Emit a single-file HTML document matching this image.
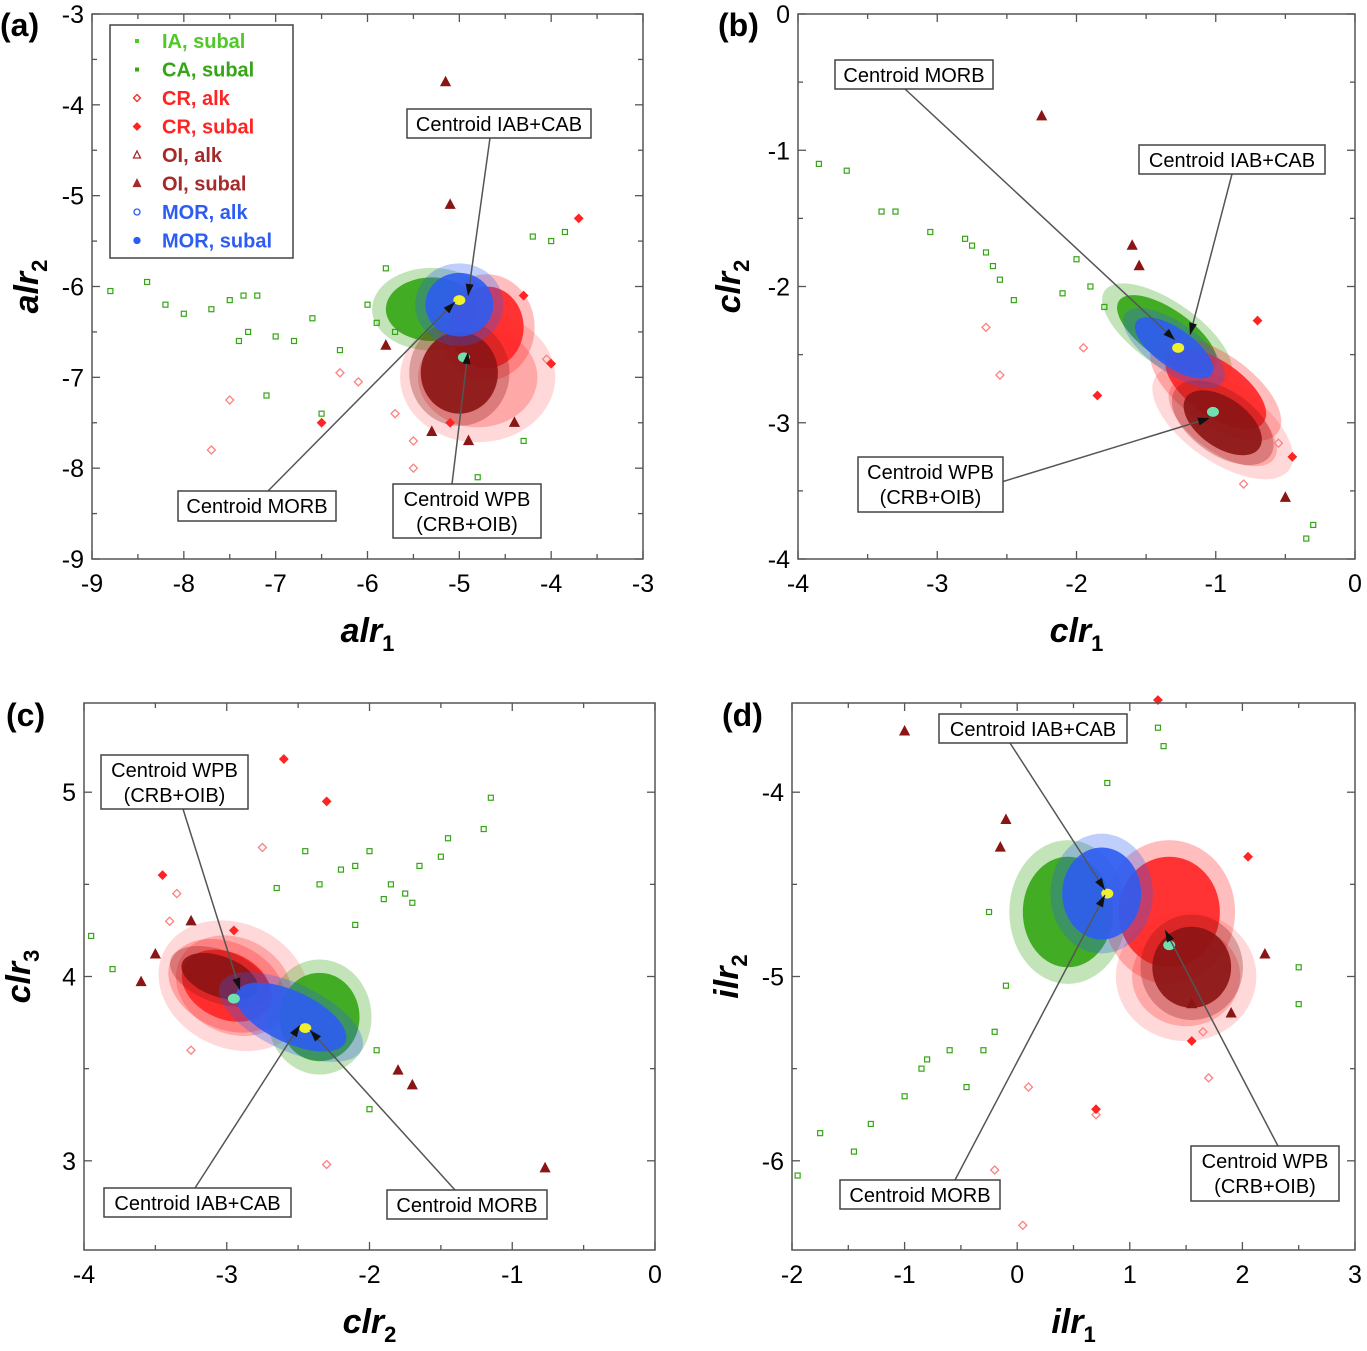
<!DOCTYPE html>
<html><head><meta charset="utf-8"><style>
body{margin:0;background:#fff}
svg text{font-family:"Liberation Sans",sans-serif}
</style></head><body>
<svg id="fig" width="1367" height="1346" viewBox="0 0 1367 1346" xmlns="http://www.w3.org/2000/svg"></svg>
<script>
// ---------- Panel (a) data ----------
const aGreen=[[-8.8,-6.05],[-8.4,-5.95],[-8.2,-6.2],[-8.0,-6.3],[-7.7,-6.25],[-7.5,-6.15],[-7.35,-6.1],[-7.2,-6.1],[-7.3,-6.5],[-7.4,-6.6],[-7.0,-6.55],[-6.8,-6.6],[-6.6,-6.35],[-6.3,-6.7],[-7.1,-7.2],[-6.5,-7.4],[-6.0,-6.2],[-5.8,-5.8],[-4.2,-5.45],[-4.0,-5.5],[-3.85,-5.4],[-4.8,-8.1],[-4.3,-7.7],[-5.7,-6.5],[-5.9,-6.4]];
const aPink=[[-7.7,-7.8],[-7.5,-7.25],[-6.3,-6.95],[-6.1,-7.05],[-5.5,-7.7],[-5.5,-8.0],[-4.05,-6.8],[-5.7,-7.4]];
const aRed=[[-6.5,-7.5],[-3.7,-5.25],[-4.0,-6.85],[-5.1,-7.5],[-4.3,-6.1]];
const aBrown=[[-5.15,-3.75],[-5.1,-5.1],[-5.3,-7.6],[-4.4,-7.5],[-4.9,-7.7],[-5.8,-6.65]];
const aClouds=[["pink",-4.8,-7.0,0.65,0.55,0],["green",-5.3,-6.25,0.5,0.35,0],["red",-4.7,-6.45,0.4,0.45,0],["brown",-5.0,-6.95,0.42,0.45,0],["blue",-5.0,-6.2,0.37,0.35,0]];
const aCentroids=[[-5.0,-6.15],[-4.95,-6.78]];
// ---------- Panel (b) data ----------
const bGreen=[[-3.85,-1.1],[-3.65,-1.15],[-3.4,-1.45],[-3.3,-1.45],[-3.05,-1.6],[-2.8,-1.65],[-2.75,-1.7],[-2.65,-1.75],[-2.6,-1.85],[-2.55,-1.95],[-2.45,-2.1],[-2.0,-1.8],[-2.1,-2.05],[-0.3,-3.75],[-0.35,-3.85],[-1.9,-2.0],[-1.8,-2.15]];
const bPink=[[-2.65,-2.3],[-2.55,-2.65],[-1.95,-2.45],[-0.55,-3.15],[-0.8,-3.45]];
const bRed=[[-0.45,-3.25],[-0.7,-2.25],[-1.85,-2.8]];
const bBrown=[[-2.25,-0.75],[-1.6,-1.7],[-1.55,-1.85],[-0.5,-3.55]];
const bClouds=[["pink",-0.95,-3.0,0.45,0.22,35],["green",-1.35,-2.35,0.42,0.18,35],["red",-1.0,-2.75,0.42,0.2,35],["brown",-0.95,-3.0,0.32,0.18,35],["blue",-1.3,-2.45,0.33,0.14,35]];
const bCentroids=[[-1.27,-2.45],[-1.02,-2.92]];
// ---------- Panel (c) data ----------
const cGreen=[[-1.15,4.97],[-1.2,4.8],[-1.45,4.75],[-1.5,4.65],[-1.65,4.6],[-1.85,4.5],[-1.9,4.42],[-2.0,4.68],[-2.1,4.6],[-1.7,4.4],[-1.75,4.45],[-2.2,4.58],[-2.35,4.5],[-2.45,4.68],[-2.65,4.48],[-3.95,4.22],[-3.8,4.04],[-2.0,3.28],[-2.1,4.28],[-1.95,3.6]];
const cPink=[[-2.75,4.7],[-3.35,4.45],[-2.3,2.98],[-3.25,3.6],[-3.4,4.3]];
const cRed=[[-2.6,5.18],[-2.3,4.95],[-3.45,4.55],[-2.95,4.25]];
const cBrown=[[-3.6,3.97],[-3.25,4.3],[-1.8,3.49],[-1.7,3.41],[-0.77,2.96],[-3.5,4.12]];
const cClouds=[["pink",-2.95,3.95,0.42,0.26,25],["red",-3.0,3.95,0.33,0.18,25],["green",-2.35,3.78,0.28,0.24,0],["brown",-3.05,4.0,0.28,0.11,20],["blue",-2.55,3.78,0.42,0.14,25]];
const cCentroids=[[-2.45,3.72],[-2.95,3.88]];
// ---------- Panel (d) data ----------
const dGreen=[[-1.95,-6.08],[-1.75,-5.85],[-1.45,-5.95],[-1.3,-5.8],[-1.0,-5.65],[-0.85,-5.5],[-0.8,-5.45],[-0.6,-5.4],[-0.45,-5.6],[-0.3,-5.4],[-0.2,-5.3],[-0.1,-5.05],[-0.25,-4.65],[2.5,-4.95],[2.5,-5.15],[0.8,-3.95],[1.25,-3.65],[1.3,-3.75]];
const dPink=[[-0.2,-6.05],[0.05,-6.35],[0.7,-5.75],[1.7,-5.55],[0.1,-5.6],[1.65,-5.3]];
const dRed=[[1.25,-3.5],[2.05,-4.35],[0.7,-5.72],[1.55,-5.35]];
const dBrown=[[-1.0,-3.67],[-0.1,-4.15],[-0.15,-4.3],[2.2,-4.88],[1.9,-5.2],[1.55,-5.15]];
const dClouds=[["pink",1.5,-5.0,0.48,0.27,0],["green",0.45,-4.65,0.4,0.3,0],["red",1.35,-4.65,0.45,0.3,0],["brown",1.55,-4.95,0.35,0.22,0],["blue",0.75,-4.55,0.35,0.25,0]];
const dCentroids=[[0.8,-4.55],[1.35,-4.83]];

const C={green:"#35a515",lgreen:"#50c828",red:"#ff2424",pink:"#ff8080",brown:"#8b1414",blue:"#2d5cf2"};
const NS="http://www.w3.org/2000/svg";
const svg=document.getElementById('fig');
function el(t,a,p){const e=document.createElementNS(NS,t);for(const k in a)e.setAttribute(k,a[k]);(p||svg).appendChild(e);return e;}

function panel(cfg){
  const g=el('g',{});
  
  
  const sx=v=>cfg.x0+(v-cfg.xmin)/(cfg.xmax-cfg.xmin)*(cfg.x1-cfg.x0);
  const sy=v=>cfg.y0+(cfg.ymax-v)/(cfg.ymax-cfg.ymin)*(cfg.y1-cfg.y0);
  const kx=(cfg.x1-cfg.x0)/(cfg.xmax-cfg.xmin), ky=(cfg.y1-cfg.y0)/(cfg.ymax-cfg.ymin);
  cfg.clouds.forEach(c=>{
    const tr=`rotate(${c[5]} ${sx(c[1])} ${sy(c[2])})`;
    const h=el('ellipse',{cx:sx(c[1]),cy:sy(c[2]),rx:c[3]*kx*1.3,ry:c[4]*ky*1.3,fill:C[c[0]],'fill-opacity':0.3,transform:tr},g);
    
    
    const e=el('ellipse',{cx:sx(c[1]),cy:sy(c[2]),rx:c[3]*kx,ry:c[4]*ky,fill:C[c[0]],'fill-opacity':c[0]=='pink'?0.55:0.9,transform:tr},g);
    
    
  });
  function pts(arr,col,shape,fill,name){
    arr.forEach(p=>{
      const x=sx(p[0]),y=sy(p[1]);let m;
      if(shape=='sq')m=el('rect',{x:x-2.5,y:y-2.5,width:5,height:5,fill:fill?col:'none',stroke:col,'stroke-width':1.2},g);
      else if(shape=='di')m=el('path',{d:`M${x} ${y-4}L${x+4} ${y}L${x} ${y+4}L${x-4} ${y}Z`,fill:fill?col:'none',stroke:col,'stroke-width':1.3},g);
      else m=el('path',{d:`M${x} ${y-5}L${x+4.5} ${y+3.5}L${x-4.5} ${y+3.5}Z`,fill:fill?col:'none',stroke:col,'stroke-width':1.3},g);
      
      
    });
  }
  pts(cfg.green,C.green,'sq',false,'ia-point');
  pts(cfg.pink,C.pink,'di',false,'cr-alk-point');
  pts(cfg.red,C.red,'di',true,'cr-subal-point');
  pts(cfg.brown,C.brown,'tri',true,'oi-subal-point');
  cfg.cents.forEach((p,i)=>{
    const e=el('ellipse',{cx:sx(p[0]),cy:sy(p[1]),rx:6,ry:5,fill:i?'#70e0b0':'#f0f030'},g);
    
    
  });
  const fr=el('rect',{x:cfg.x0,y:cfg.y0,width:cfg.x1-cfg.x0,height:cfg.y1-cfg.y0,fill:'none',stroke:'#555','stroke-width':1.5},g);
  
  
  for(let v=cfg.xmin;v<=cfg.xmax+1e-9;v+=cfg.xstep/2){
    const maj=Math.abs(Math.round(v/cfg.xstep)*cfg.xstep-v)<1e-6,L=maj?8:5,x=sx(v);
    el('line',{x1:x,x2:x,y1:cfg.y1,y2:cfg.y1-L,stroke:'#555','stroke-width':1.3},g);
    el('line',{x1:x,x2:x,y1:cfg.y0,y2:cfg.y0+L,stroke:'#555','stroke-width':1.3},g);
    if(maj){const t=el('text',{x:x,y:cfg.y1+33,'font-size':25,'text-anchor':'middle'},g);t.textContent=String(Math.round(v));
      }
  }
  const ys=Math.ceil(cfg.ymin/(cfg.ystep/2))*(cfg.ystep/2);
  for(let v=ys;v<=cfg.ymax+1e-9;v+=cfg.ystep/2){
    const maj=Math.abs(Math.round(v/cfg.ystep)*cfg.ystep-v)<1e-6,L=maj?8:5,y=sy(v);
    el('line',{x1:cfg.x0,x2:cfg.x0+L,y1:y,y2:y,stroke:'#555','stroke-width':1.3},g);
    el('line',{x1:cfg.x1,x2:cfg.x1-L,y1:y,y2:y,stroke:'#555','stroke-width':1.3},g);
    if(maj){const t=el('text',{x:cfg.x0-8,y:y+9,'font-size':25,'text-anchor':'end'},g);t.textContent=String(Math.round(v));
      }
  }
  cfg.labels.forEach(l=>{
    const ln=el('line',{x1:l.lx,y1:l.ly,x2:l.tx,y2:l.ty,stroke:'#555','stroke-width':1.5},g);
    
    const ang=Math.atan2(l.ty-l.ly,l.tx-l.lx);
    el('path',{d:`M${l.tx} ${l.ty}L${l.tx-12*Math.cos(ang)+4*Math.sin(ang)} ${l.ty-12*Math.sin(ang)-4*Math.cos(ang)}L${l.tx-12*Math.cos(ang)-4*Math.sin(ang)} ${l.ty-12*Math.sin(ang)+4*Math.cos(ang)}Z`,fill:'#111'},g);
    const r=el('rect',{x:l.x,y:l.y,width:l.w,height:l.h,fill:'#fff',stroke:'#444','stroke-width':1.5},g);
    
    l.t.forEach((s,i)=>{const t=el('text',{x:l.x+l.w/2,y:l.y+22+i*25,'font-size':20,'text-anchor':'middle'},g);t.textContent=s;
      });
  });
  const xt=el('text',{x:(cfg.x0+cfg.x1)/2,y:cfg.y1+83,'font-size':34,'font-style':'italic','font-weight':'bold','text-anchor':'middle'},g);
  xt.innerHTML=cfg.xl+'<tspan font-size="22" dy="9" font-style="normal">'+cfg.sub1+'</tspan>';
  
  const yt=el('text',{x:0,y:0,'font-size':34,'font-style':'italic','font-weight':'bold','text-anchor':'middle',transform:`translate(${cfg.ytx},${(cfg.y0+cfg.y1)/2}) rotate(-90)`},g);
  yt.innerHTML=cfg.yl+'<tspan font-size="22" dy="9" font-style="normal">'+cfg.sub2+'</tspan>';
  
  const pl=el('text',{x:cfg.px,y:cfg.py,'font-size':32,'font-weight':'bold'},g);pl.textContent=cfg.letter;
  
}

panel({name:'panel-a',letter:'(a)',px:0,py:36,x0:92,x1:643,y0:14,y1:559,xmin:-9,xmax:-3,ymin:-9,ymax:-3,xstep:1,ystep:1,
 xl:'alr',yl:'alr',sub1:'1',sub2:'2',ytx:38,green:aGreen,pink:aPink,red:aRed,brown:aBrown,clouds:aClouds,cents:aCentroids,
 labels:[{x:407,y:109,w:184,h:29,t:['Centroid IAB+CAB'],lx:490,ly:138,tx:468,ty:296},
 {x:178,y:491,w:158,h:30,t:['Centroid MORB'],lx:268,ly:491,tx:455,ty:302},
 {x:393,y:484,w:148,h:54,t:['Centroid WPB','(CRB+OIB)'],lx:452,ly:484,tx:468,ty:352}]});
panel({name:'panel-b',letter:'(b)',px:718,py:36,x0:798,x1:1355,y0:14,y1:559,xmin:-4,xmax:0,ymin:-4,ymax:0,xstep:1,ystep:1,
 xl:'clr',yl:'clr',sub1:'1',sub2:'2',ytx:740,green:bGreen,pink:bPink,red:bRed,brown:bBrown,clouds:bClouds,cents:bCentroids,
 labels:[{x:835,y:60,w:158,h:29,t:['Centroid MORB'],lx:905,ly:89,tx:1175,ty:340},
 {x:1139,y:145,w:186,h:29,t:['Centroid IAB+CAB'],lx:1232,ly:174,tx:1190,ty:335},
 {x:858,y:457,w:145,h:55,t:['Centroid WPB','(CRB+OIB)'],lx:995,ly:484,tx:1210,ty:418}]});
panel({name:'panel-c',letter:'(c)',px:6,py:726,x0:84,x1:655,y0:703,y1:1250,xmin:-4,xmax:0,ymin:2.516,ymax:5.484,xstep:1,ystep:1,
 xl:'clr',yl:'clr',sub1:'2',sub2:'3',ytx:30,green:cGreen,pink:cPink,red:cRed,brown:cBrown,clouds:cClouds,cents:cCentroids,
 labels:[{x:101,y:755,w:147,h:54,t:['Centroid WPB','(CRB+OIB)'],lx:183,ly:809,tx:240,ty:990},
 {x:104,y:1188,w:187,h:29,t:['Centroid IAB+CAB'],lx:195,ly:1188,tx:300,ty:1025},
 {x:387,y:1190,w:160,h:29,t:['Centroid MORB'],lx:455,ly:1190,tx:310,ty:1030}]});
panel({name:'panel-d',letter:'(d)',px:722,py:726,x0:792,x1:1355,y0:703,y1:1250,xmin:-2,xmax:3,ymin:-6.484,ymax:-3.516,xstep:1,ystep:1,
 xl:'ilr',yl:'ilr',sub1:'1',sub2:'2',ytx:738,green:dGreen,pink:dPink,red:dRed,brown:dBrown,clouds:dClouds,cents:dCentroids,
 labels:[{x:939,y:714,w:188,h:29,t:['Centroid IAB+CAB'],lx:1010,ly:743,tx:1105,ty:890},
 {x:840,y:1180,w:160,h:29,t:['Centroid MORB'],lx:955,ly:1180,tx:1105,ty:895},
 {x:1191,y:1146,w:148,h:55,t:['Centroid WPB','(CRB+OIB)'],lx:1278,ly:1146,tx:1165,ty:930}]});

const legNames=['IA, subal','CA, subal','CR, alk','CR, subal','OI, alk','OI, subal','MOR, alk','MOR, subal'];
const legCols=[C.lgreen,C.green,C.red,C.red,'#a52a2a','#a52a2a',C.blue,C.blue];
const lg=el('g',{});


el('rect',{x:110,y:25,width:183,height:233,fill:'#fff',stroke:'#444','stroke-width':1.5},lg);
legNames.forEach((n,i)=>{
  const y=41+i*28.5,x=137,col=legCols[i],open=[2,4,6].includes(i);
  let m;
  if(i<2)m=el('rect',{x:x-2,y:y-2,width:4,height:4,fill:col},lg);
  else if(i<4)m=el('path',{d:`M${x} ${y-3.5}L${x+3.5} ${y}L${x} ${y+3.5}L${x-3.5} ${y}Z`,fill:open?'none':col,stroke:col,'stroke-width':1.3},lg);
  else if(i<6)m=el('path',{d:`M${x} ${y-4}L${x+3.5} ${y+3}L${x-3.5} ${y+3}Z`,fill:open?'none':col,stroke:col,'stroke-width':1.3},lg);
  else m=el('circle',{cx:x,cy:y,r:3,fill:open?'none':col,stroke:col,'stroke-width':1.3},lg);
  
  
  const t=el('text',{x:162,y:y+7,'font-size':20,'font-weight':'bold',fill:col},lg);
  t.textContent=n;
  
  
});
</script>
</body></html>
